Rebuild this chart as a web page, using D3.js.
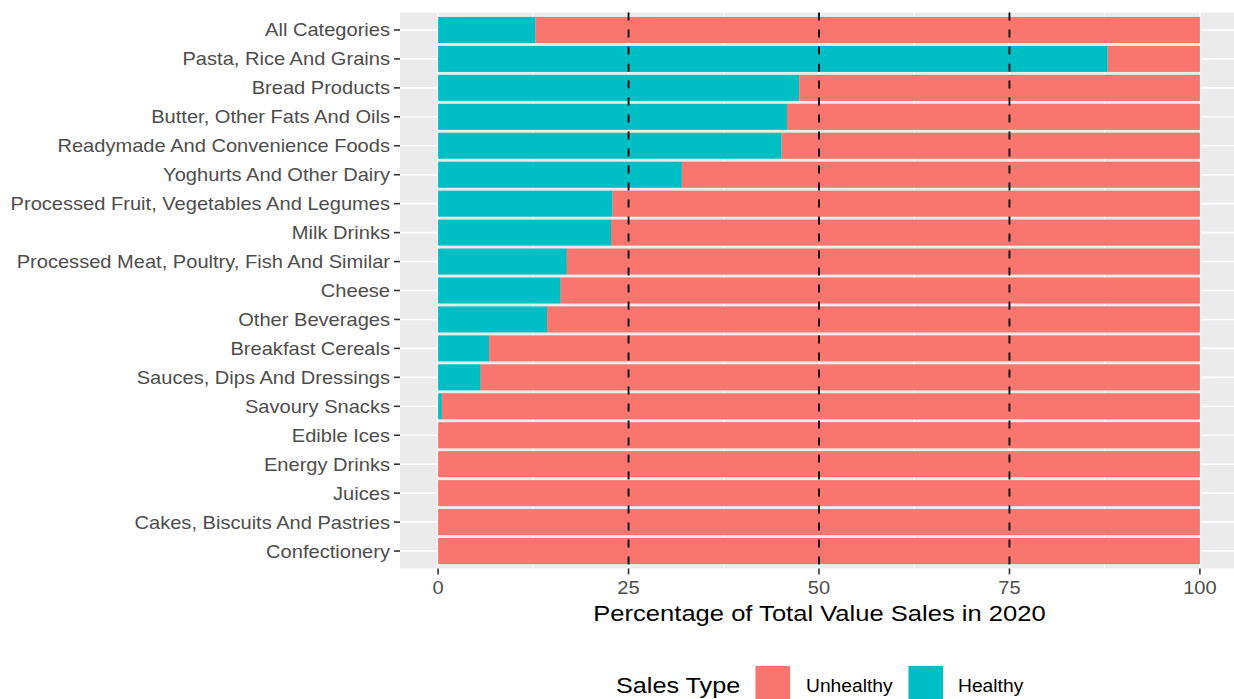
<!DOCTYPE html>
<html><head><meta charset="utf-8">
<script src="https://cdn.jsdelivr.net/npm/d3@7"></script>
<style>body{margin:0;background:#fff}svg{display:block}text{font-family:"Liberation Sans",Arial,sans-serif}</style>
</head><body>
<svg id="c" width="1234" height="699"></svg>
<script>
const categories = ["All Categories","Pasta, Rice And Grains","Bread Products","Butter, Other Fats And Oils","Readymade And Convenience Foods","Yoghurts And Other Dairy","Processed Fruit, Vegetables And Legumes","Milk Drinks","Processed Meat, Poultry, Fish And Similar","Cheese","Other Beverages","Breakfast Cereals","Sauces, Dips And Dressings","Savoury Snacks","Edible Ices","Energy Drinks","Juices","Cakes, Biscuits And Pastries","Confectionery"];
const healthy = [12.8,87.9,47.4,45.8,45.1,32.0,22.9,22.7,16.9,16.1,14.3,6.7,5.6,0.5,0,0,0,0,0];
const unhealthy = healthy.map(h => 100 - h);
const xTicks = [0,25,50,75,100];
const refLines = [25,50,75];
const seriesNames = ["Unhealthy","Healthy"];
const colors = {Unhealthy:"#F8766D", Healthy:"#00BFC4"};

const svg = d3.select("#c");
const x = d3.scaleLinear().domain([-5,105]).range([400,1238]);
const yTop = 12.6, yBot = 568.4;
const y = d3.scalePoint().domain(categories).range([yTop, yBot]).padding(0.6);
const yc = d => y(d);
const bw = y.step()*0.9;

function stretch(sel, f){
  sel.each(function(){
    const w = this.getComputedTextLength();
    d3.select(this).attr("textLength", w*f).attr("lengthAdjust","spacingAndGlyphs");
  });
  return sel;
}

const g = svg.append("g");
g.append("rect").attr("x",x(-5)).attr("y",yTop).attr("width",x(105)-x(-5)).attr("height",yBot-yTop).attr("fill","#EBEBEB");
[12.5,37.5,62.5,87.5].forEach(v=>g.append("line").attr("x1",x(v)).attr("x2",x(v)).attr("y1",yTop).attr("y2",yBot).attr("stroke","#fff").attr("stroke-width",0.8));
xTicks.forEach(v=>g.append("line").attr("x1",x(v)).attr("x2",x(v)).attr("y1",yTop).attr("y2",yBot).attr("stroke","#fff").attr("stroke-width",1.6));
categories.forEach(c=>g.append("line").attr("x1",x(-5)).attr("x2",x(105)).attr("y1",yc(c)).attr("y2",yc(c)).attr("stroke","#fff").attr("stroke-width",1.6));

const data = categories.map((c,i)=>({c, h:healthy[i], u:unhealthy[i]}));
g.selectAll(".h").data(data).join("rect").attr("x",x(0)).attr("y",d=>yc(d.c)-bw/2).attr("width",d=>x(d.h)-x(0)).attr("height",bw).attr("fill",colors.Healthy);
g.selectAll(".u").data(data).join("rect").attr("x",d=>x(d.h)).attr("y",d=>yc(d.c)-bw/2).attr("width",d=>x(d.h+d.u)-x(d.h)).attr("height",bw).attr("fill",colors.Unhealthy);

refLines.forEach(v=>g.append("line").attr("x1",x(v)).attr("x2",x(v)).attr("y1",yTop).attr("y2",yBot).attr("stroke","#000").attr("stroke-width",1.8).attr("stroke-dasharray","8,9"));

categories.forEach(c=>{
  g.append("line").attr("x1",394).attr("x2",400).attr("y1",yc(c)).attr("y2",yc(c)).attr("stroke","#333").attr("stroke-width",1.6);
});
stretch(g.selectAll(".yl").data(categories).join("text").attr("x",390).attr("y",d=>yc(d)).attr("dy","0.35em").attr("text-anchor","end").attr("font-size",18.5).attr("fill","#4D4D4D").text(d=>d),1.085);

xTicks.forEach(v=>{
  g.append("line").attr("x1",x(v)).attr("x2",x(v)).attr("y1",yBot).attr("y2",yBot+6).attr("stroke","#333").attr("stroke-width",1.6);
});
stretch(g.selectAll(".xl").data(xTicks).join("text").attr("x",d=>x(d)).attr("y",594).attr("text-anchor","middle").attr("font-size",18.5).attr("fill","#4D4D4D").text(d=>d),1.085);

stretch(g.append("text").attr("x",819.5).attr("y",621).attr("text-anchor","middle").attr("font-size",22.5).attr("fill","#000").text("Percentage of Total Value Sales in 2020"),1.136);

stretch(g.append("text").attr("x",616).attr("y",693).attr("font-size",22.5).attr("fill","#000").text("Sales Type"),1.12);
const lx = [755,908], tx=[806,958];
seriesNames.forEach((s,i)=>{
  g.append("rect").attr("x",lx[i]).attr("y",665.5).attr("width",35.5).attr("height",40).attr("fill",colors[s]).attr("stroke","#F2F2F2").attr("stroke-width",1);
  stretch(g.append("text").attr("x",tx[i]).attr("y",692).attr("font-size",17.5).attr("fill","#000").text(s),1.10);
});
</script>
</body></html>
